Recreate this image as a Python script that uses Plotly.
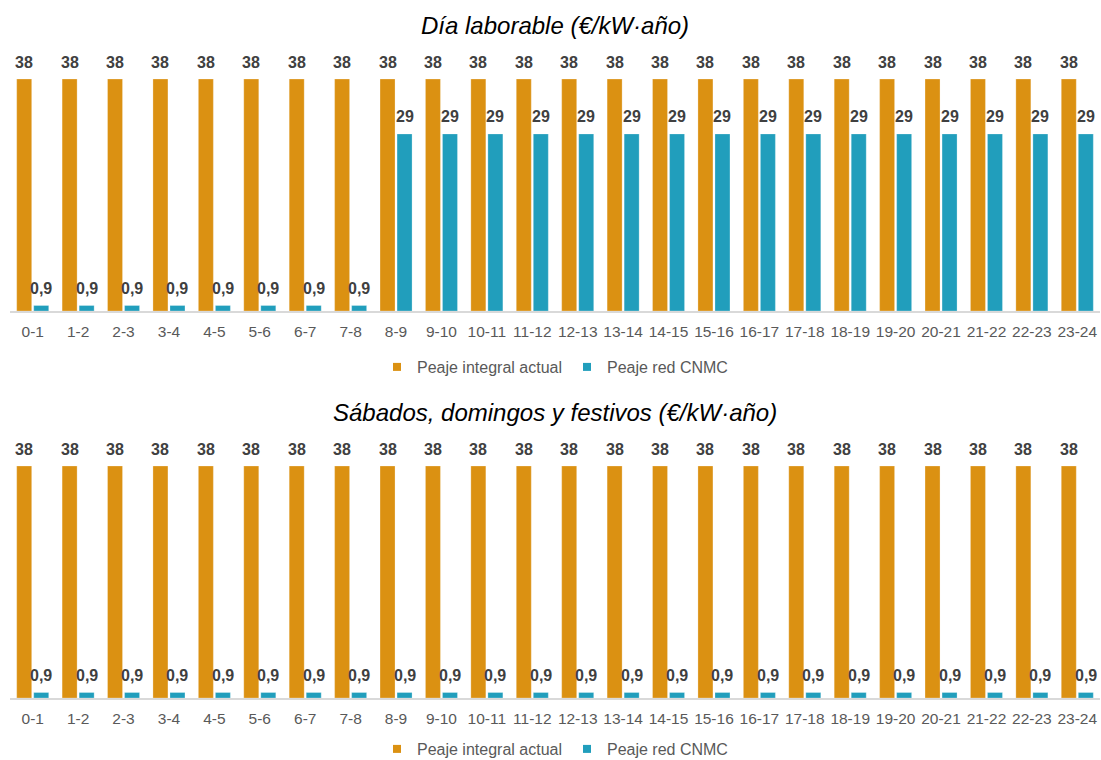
import plotly.graph_objects as go
from plotly.subplots import make_subplots

hours = ["0-1", "1-2", "2-3", "3-4", "4-5", "5-6", "6-7", "7-8", "8-9", "9-10", "10-11", "11-12",
         "12-13", "13-14", "14-15", "15-16", "16-17", "17-18", "18-19", "19-20", "20-21", "21-22",
         "22-23", "23-24"]
laborable_actual = [38] * 24
laborable_cnmc = [0.9] * 8 + [29] * 16
festivo_actual = [38] * 24
festivo_cnmc = [0.9] * 24

series_names = ["Peaje integral actual", "Peaje red CNMC"]
titles = ["Día laborable (€/kW·año)", "Sábados, domingos y festivos (€/kW·año)"]

ORANGE = "#DB9112"
TEAL = "#219EBC"
LABEL = "#404040"
TICK = "#595959"
FONT = "Liberation Sans, Arial, sans-serif"

H = 760.0
scale = 232 / 38.0  # px per unit

def fmt(v):
    return ("%g" % v).replace(".", ",")

fig = make_subplots(rows=2, cols=1)

panels = [(laborable_actual, laborable_cnmc, 1), (festivo_actual, festivo_cnmc, 2)]
for actual, cnmc, row in panels:
    leg = "legend" if row == 1 else "legend2"
    for vals, name, col in ((actual, series_names[0], ORANGE), (cnmc, series_names[1], TEAL)):
        fig.add_trace(go.Bar(x=hours, y=vals, name=name, marker_color=col,
                             marker_line=dict(color="rgba(255,255,255,0.5)", width=0.5),
                             showlegend=False, hoverinfo="x+y"), row=row, col=1)
    # legend entries (small square swatches)
    for name, col in ((series_names[0], ORANGE), (series_names[1], TEAL)):
        fig.add_trace(go.Scatter(x=[None], y=[None], mode="markers", name=name,
                                 marker=dict(symbol="square", size=8, color=col),
                                 legend=leg, showlegend=True, hoverinfo="skip"), row=row, col=1)
    xr = "x" if row == 1 else "x2"
    yr = "y" if row == 1 else "y2"
    for vals, dx in ((actual, -8.5), (cnmc, 8.5)):
        for h, v in zip(hours, vals):
            fig.add_annotation(x=h, y=v, xref=xr, yref=yr, text=fmt(v), showarrow=False,
                               xshift=dx, yshift=17, yanchor="middle", xanchor="center",
                               font=dict(family=FONT, size=16, color=LABEL, weight="bold"))

# panel geometry (pixels from top)
axis_px = [311, 698]
top_px = [40, 427]
for i, (a, t) in enumerate(zip(axis_px, top_px)):
    dom = [(H - a) / H, (H - t) / H]
    rng = [0, (a - t) / scale]
    yk = "yaxis" if i == 0 else "yaxis2"
    xk = "xaxis" if i == 0 else "xaxis2"
    fig.layout[yk].update(domain=dom, range=rng, visible=False, fixedrange=True)
    fig.layout[xk].update(type="category", showline=True, linecolor="#D9D9D9", linewidth=1.5,
                          ticks="", showgrid=False, zeroline=False,
                          tickfont=dict(family=FONT, size=15.5, color=TICK),
                          ticklabelstandoff=6)

# titles
fig.add_annotation(text="<i>" + titles[0] + "</i>", xref="paper", yref="paper", x=0.5,
                   y=(H - 26) / H, yanchor="middle", showarrow=False,
                   font=dict(family=FONT, size=24, color="#000000"))
fig.add_annotation(text="<i>" + titles[1] + "</i>", xref="paper", yref="paper", x=0.5,
                   y=(H - 412) / H, yanchor="middle", showarrow=False,
                   font=dict(family=FONT, size=24, color="#000000"))

legend_common = dict(orientation="h", xanchor="center", x=0.5, yanchor="middle",
                     font=dict(family=FONT, size=16, color=TICK), bgcolor="rgba(0,0,0,0)",
                     itemclick=False, itemdoubleclick=False, itemwidth=30)
fig.update_layout(
    width=1101, height=760,
    margin=dict(l=10, r=1, t=0, b=0, autoexpand=False),
    plot_bgcolor="white", paper_bgcolor="white",
    barmode="group", bargap=0.25, bargroupgap=0.12,
    showlegend=True,
    legend=dict(y=(H - 367) / H, **legend_common),
    legend2=dict(y=(H - 749) / H, **legend_common),
    font=dict(family=FONT),
)

fig.write_html("out.html", config={"displayModeBar": False})
